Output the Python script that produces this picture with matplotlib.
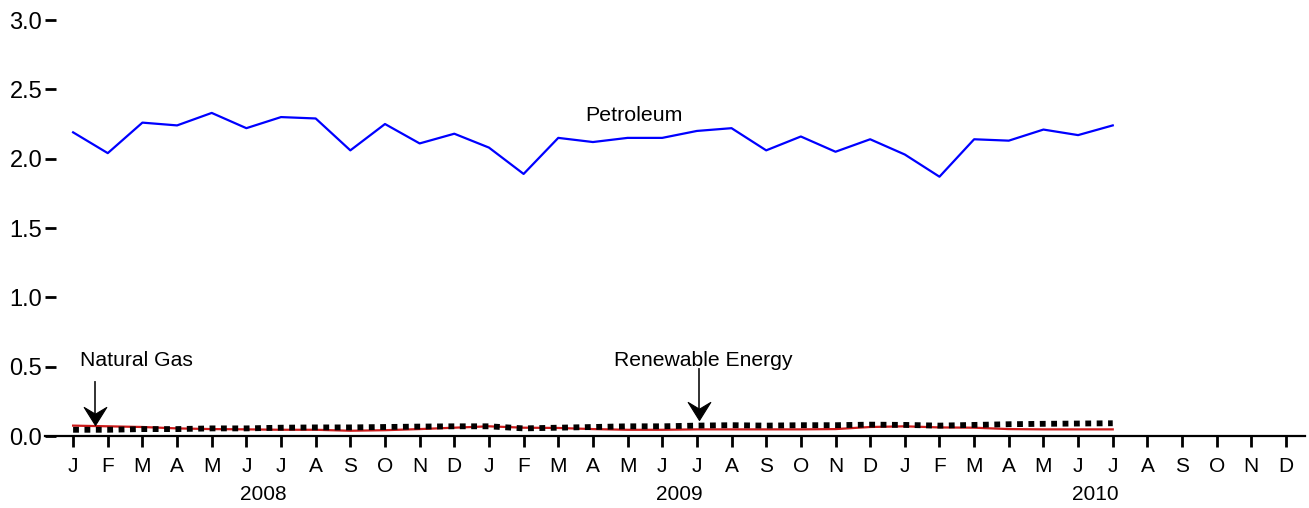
import matplotlib.pyplot as plt
from matplotlib.path import Path
import numpy as np

plt.rcParams['font.family'] = ['Liberation Sans', 'DejaVu Sans']

months = ["J", "F", "M", "A", "M", "J", "J", "A", "S", "O", "N", "D"] * 3
years = ["2008", "2009", "2010"]

petroleum = [2.19, 2.04, 2.26, 2.24, 2.33, 2.22, 2.30, 2.29, 2.06, 2.25, 2.11, 2.18,
             2.08, 1.89, 2.15, 2.12, 2.15, 2.15, 2.20, 2.22, 2.06, 2.16, 2.05, 2.14,
             2.03, 1.87, 2.14, 2.13, 2.21, 2.17, 2.24]
natural_gas = [0.075, 0.07, 0.065, 0.055, 0.05, 0.048, 0.045, 0.045, 0.038, 0.042, 0.05, 0.06,
               0.07, 0.06, 0.058, 0.05, 0.045, 0.045, 0.048, 0.048, 0.048, 0.048, 0.05, 0.065,
               0.07, 0.062, 0.06, 0.05, 0.048, 0.048, 0.048]
renewable = [0.045, 0.045, 0.05, 0.05, 0.055, 0.055, 0.06, 0.062, 0.062, 0.065, 0.068, 0.07,
             0.07, 0.055, 0.06, 0.065, 0.07, 0.07, 0.075, 0.078, 0.075, 0.078, 0.078, 0.082,
             0.08, 0.075, 0.08, 0.085, 0.088, 0.09, 0.092]

x = np.arange(len(petroleum))

fig = plt.figure(figsize=(13.09, 5.08), dpi=100)
ax = fig.add_axes([0.0344, 0.1417, 0.9626, 0.8189])

ax.plot(x, petroleum, color="#0000ff", linewidth=1.6, clip_on=False)
ax.plot(x, natural_gas, color="#cc1a1a", linewidth=1.6, clip_on=False)
ax.plot(x, renewable, color="black", linewidth=4.2, linestyle=(0, (1, 0.95)),
        dash_capstyle="butt", clip_on=False)

ax.set_xlim(-0.81, 35.55)
ax.set_ylim(0, 3.0)

for s in ["top", "right", "left"]:
    ax.spines[s].set_visible(False)
ax.spines["bottom"].set_linewidth(1.6)

ax.set_yticks([0, 0.5, 1.0, 1.5, 2.0, 2.5, 3.0])
ax.set_yticklabels(["0.0", "0.5", "1.0", "1.5", "2.0", "2.5", "3.0"], fontsize=17)
ax.tick_params(axis="y", direction="in", length=8, width=2, pad=2)

ax.set_xticks(np.arange(36))
ax.set_xticklabels(months, fontsize=15)
ax.tick_params(axis="x", direction="out", length=8, width=2, pad=7)

for i, yr in enumerate(years):
    ax.text(i * 12 + 5.5, -0.42, yr, fontsize=15, ha="center", va="center")

ax.text(16.19, 2.31, "Petroleum", fontsize=15.4, ha="center", va="center")
ax.text(1.82, 0.545, "Natural Gas", fontsize=15.2, ha="center", va="center")
ax.text(18.18, 0.545, "Renewable Energy", fontsize=15.2, ha="center", va="center")

# barbed arrow head, tip at the marker origin
head = Path([(0, 0), (-10, 16), (0, 10), (10, 16), (0, 0)],
            [Path.MOVETO, Path.LINETO, Path.LINETO, Path.LINETO, Path.CLOSEPOLY])
arrows = [(0.63, 0.39, 0.08), (18.06, 0.48, 0.115)]
for ax_x, y0, y1 in arrows:
    ax.plot([ax_x, ax_x], [y0, y1 + 0.04], color="#222222", linewidth=1.3)
    ax.plot([ax_x], [y1], marker=head, markersize=26, color="black",
            markeredgewidth=0.8, linestyle="none", clip_on=False)

plt.savefig("out.png", dpi=100)
